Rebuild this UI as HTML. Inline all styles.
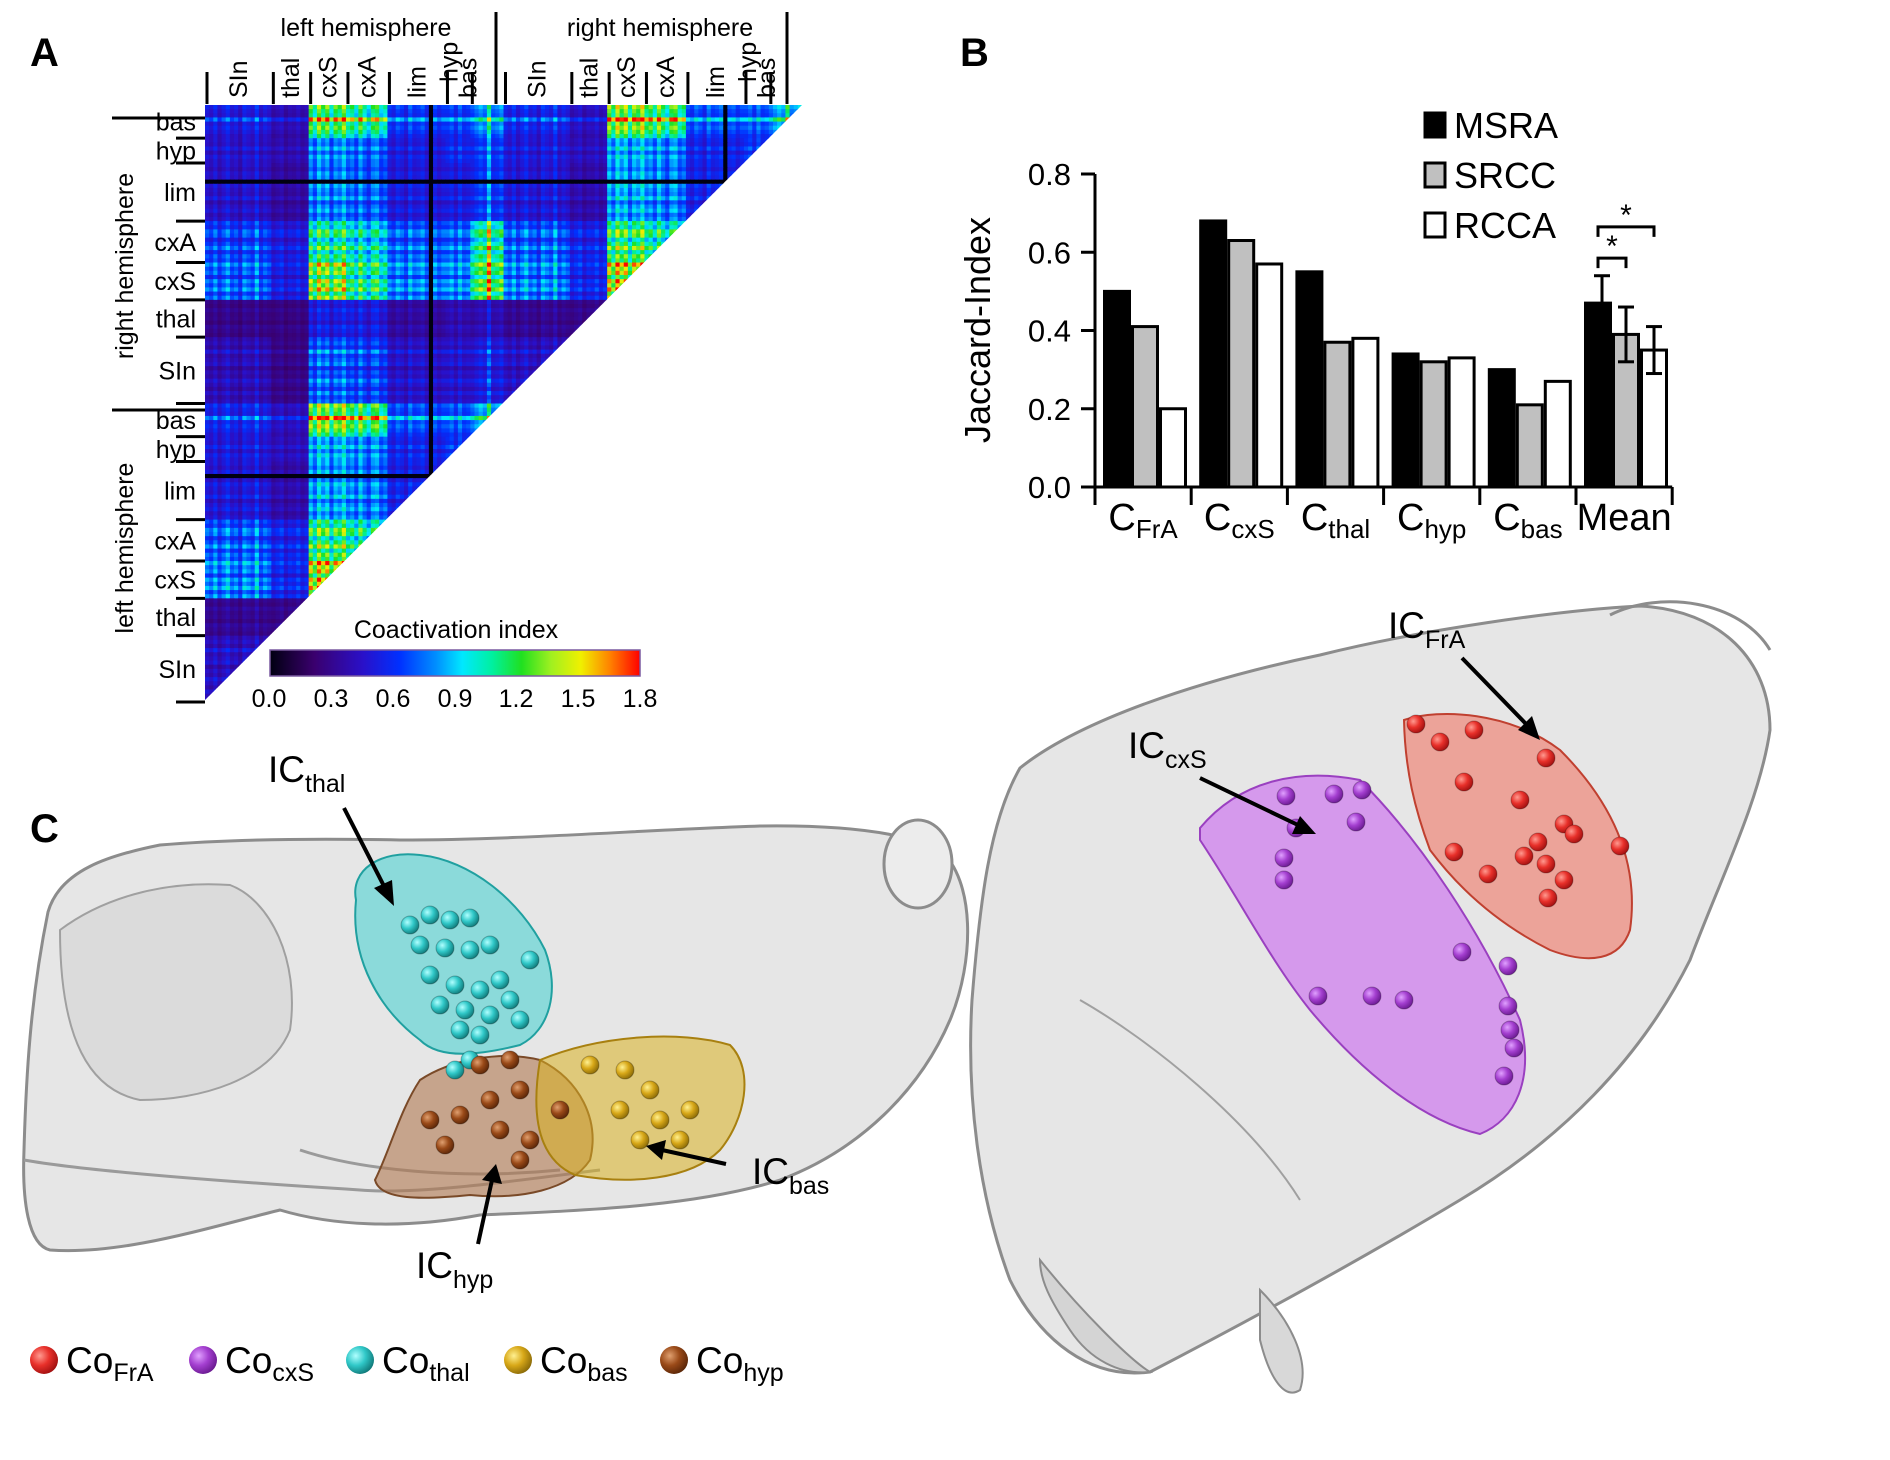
<!DOCTYPE html>
<html><head><meta charset="utf-8"><style>
html,body{margin:0;padding:0;background:#fff}
svg{display:block;font-family:"Liberation Sans",Arial,sans-serif}
</style></head><body>
<svg id="fig" width="1890" height="1460" viewBox="0 0 1890 1460" xmlns="http://www.w3.org/2000/svg">
<defs>
<linearGradient id="cbar" x1="0" x2="1" y1="0" y2="0">
<stop offset="0" stop-color="#000010"/><stop offset="0.12" stop-color="#3a006e"/><stop offset="0.25" stop-color="#2a10c8"/>
<stop offset="0.35" stop-color="#0030ff"/><stop offset="0.45" stop-color="#0090ff"/><stop offset="0.52" stop-color="#00e8ff"/>
<stop offset="0.6" stop-color="#00f0a0"/><stop offset="0.68" stop-color="#20e020"/><stop offset="0.76" stop-color="#a0f020"/>
<stop offset="0.84" stop-color="#f0f000"/><stop offset="0.92" stop-color="#ff8000"/><stop offset="1" stop-color="#ff0000"/>
</linearGradient>
<clipPath id="tri"><polygon points="205,105 802,105 205,700"/></clipPath>
<radialGradient id="gRed" cx="0.35" cy="0.35" r="0.7"><stop offset="0" stop-color="#ff9a90"/><stop offset="0.5" stop-color="#e8302a"/><stop offset="1" stop-color="#a01010"/></radialGradient>
<radialGradient id="gPur" cx="0.35" cy="0.35" r="0.7"><stop offset="0" stop-color="#e0a0ff"/><stop offset="0.5" stop-color="#a43fd0"/><stop offset="1" stop-color="#6a1a90"/></radialGradient>
<radialGradient id="gCya" cx="0.35" cy="0.35" r="0.7"><stop offset="0" stop-color="#b0ffff"/><stop offset="0.5" stop-color="#30c8c8"/><stop offset="1" stop-color="#107878"/></radialGradient>
<radialGradient id="gGol" cx="0.35" cy="0.35" r="0.7"><stop offset="0" stop-color="#fff090"/><stop offset="0.5" stop-color="#d8a818"/><stop offset="1" stop-color="#8a6a08"/></radialGradient>
<radialGradient id="gBro" cx="0.35" cy="0.35" r="0.7"><stop offset="0" stop-color="#e0a070"/><stop offset="0.5" stop-color="#9a4a18"/><stop offset="1" stop-color="#5a2608"/></radialGradient>
</defs>

<text x="30" y="66" font-size="40" font-weight="bold">A</text>
<text x="960" y="66" font-size="40" font-weight="bold">B</text>
<text x="30" y="842" font-size="40" font-weight="bold">C</text>

<g id="heat" clip-path="url(#tri)"></g>
<g id="heatAxes" font-size="25"></g>
<text x="366" y="36" font-size="25" text-anchor="middle">left hemisphere</text>
<text x="660" y="36" font-size="25" text-anchor="middle">right hemisphere</text>
<line x1="496" y1="12" x2="496" y2="104" stroke="#000" stroke-width="3"/>
<line x1="787" y1="12" x2="787" y2="104" stroke="#000" stroke-width="3"/>
<line x1="112" y1="118" x2="205" y2="118" stroke="#000" stroke-width="3"/>
<line x1="112" y1="410" x2="205" y2="410" stroke="#000" stroke-width="3"/>
<text transform="translate(133,266) rotate(-90)" font-size="25" text-anchor="middle">right hemisphere</text>
<text transform="translate(133,548) rotate(-90)" font-size="25" text-anchor="middle">left hemisphere</text>
<g>
<text x="456" y="638" font-size="25" text-anchor="middle">Coactivation  index</text>
<rect x="270" y="650" width="370" height="26" fill="url(#cbar)" stroke="#7a5aa0" stroke-width="1.5"/>
<g font-size="25" text-anchor="middle">
<text x="269" y="707">0.0</text><text x="331" y="707">0.3</text><text x="393" y="707">0.6</text><text x="455" y="707">0.9</text><text x="516" y="707">1.2</text><text x="578" y="707">1.5</text><text x="640" y="707">1.8</text>
</g></g>

<g id="bars"></g>

<g>
<path d="M48,912 C60,870 110,855 160,845 C220,840 300,838 400,840 C520,840 640,830 760,826 C830,825 900,830 940,850 C975,880 975,960 950,1020 C920,1090 860,1150 780,1180 C700,1205 600,1210 480,1215 C400,1230 330,1225 280,1210 C200,1230 120,1255 50,1250 C28,1245 22,1200 24,1150 C26,1080 30,1000 48,912 Z" fill="#e2e2e2" fill-opacity="0.85" stroke="#8c8c8c" stroke-width="3"/>
<path d="M60,930 C100,900 160,880 230,885 C270,900 300,960 290,1030 C270,1080 200,1100 140,1100 C90,1090 60,1040 60,930 Z" fill="#d4d4d4" fill-opacity="0.6" stroke="#a0a0a0" stroke-width="2"/>
<ellipse cx="918" cy="864" rx="34" ry="44" fill="#ececec" stroke="#8c8c8c" stroke-width="3"/>
<path d="M24,1160 C80,1170 200,1180 360,1190 C420,1195 520,1180 600,1170" fill="none" stroke="#9a9a9a" stroke-width="3"/>
<path d="M300,1150 C360,1170 460,1180 560,1170" fill="none" stroke="#9a9a9a" stroke-width="3"/>
</g>
<path d="M356,900 C350,870 380,850 420,855 C470,860 520,900 545,950 C560,990 550,1030 520,1045 C480,1055 440,1060 420,1040 C380,1010 350,960 356,900 Z" fill="#40d0d0" fill-opacity="0.55" stroke="#20a0a0" stroke-width="2"/>
<path d="M420,1080 C450,1060 500,1050 540,1060 C580,1080 600,1120 590,1160 C570,1190 520,1200 470,1195 C420,1200 380,1200 375,1180 C390,1150 400,1110 420,1080 Z" fill="#b07850" fill-opacity="0.6" stroke="#7a4a28" stroke-width="2"/>
<path d="M540,1060 C600,1035 680,1030 730,1045 C755,1070 745,1120 720,1150 C690,1180 630,1185 575,1175 C540,1160 530,1120 540,1060 Z" fill="#d8b020" fill-opacity="0.55" stroke="#a88010" stroke-width="2"/>
<g id="dotsLeft"></g>

<g>
<path d="M1020,768 C1080,720 1200,680 1320,655 C1420,630 1560,610 1640,606 C1720,610 1770,660 1770,730 C1760,800 1720,880 1690,960 C1640,1060 1560,1140 1460,1200 C1360,1260 1250,1320 1150,1372 C1090,1380 1040,1340 1010,1280 C980,1200 966,1100 972,1000 C980,900 990,820 1020,768 Z" fill="#e2e2e2" fill-opacity="0.85" stroke="#8c8c8c" stroke-width="3"/>
<path d="M1040,1260 C1080,1310 1130,1360 1150,1372 C1120,1375 1090,1360 1070,1330 C1050,1300 1040,1280 1040,1260 Z" fill="#d4d4d4" stroke="#8c8c8c" stroke-width="2"/>
<path d="M1260,1290 C1290,1320 1310,1360 1300,1390 C1285,1400 1270,1380 1260,1340 Z" fill="#d8d8d8" stroke="#8c8c8c" stroke-width="2"/>
<path d="M1610,615 C1660,590 1740,600 1770,650" fill="none" stroke="#8c8c8c" stroke-width="3"/>
<path d="M1080,1000 C1150,1040 1250,1120 1300,1200" fill="none" stroke="#a0a0a0" stroke-width="2"/>
</g>
<path d="M1200,828 C1240,780 1300,768 1360,780 C1420,840 1480,930 1520,1020 C1535,1080 1515,1120 1480,1134 C1420,1120 1360,1070 1310,1010 C1270,960 1240,900 1200,840 Z" fill="#cc70f0" fill-opacity="0.65" stroke="#9a40c0" stroke-width="2"/>
<path d="M1404,720 C1440,708 1510,712 1560,750 C1610,800 1640,860 1630,930 C1620,960 1590,965 1550,950 C1500,925 1460,890 1430,850 C1415,810 1405,770 1404,720 Z" fill="#f08070" fill-opacity="0.65" stroke="#c04030" stroke-width="2"/>
<g id="dotsRight"></g>

<g font-size="37">
<text x="268" y="782">IC<tspan font-size="25" dy="10">thal</tspan></text>
<text x="1388" y="638">IC<tspan font-size="25" dy="10">FrA</tspan></text>
<text x="1128" y="758">IC<tspan font-size="25" dy="10">cxS</tspan></text>
<text x="752" y="1184">IC<tspan font-size="25" dy="10">bas</tspan></text>
<text x="416" y="1278">IC<tspan font-size="25" dy="10">hyp</tspan></text>
</g>
<g stroke="#000" stroke-width="4" fill="#000">
<line x1="344" y1="808" x2="386" y2="890"/><polygon points="394,906 374,888 392,880" stroke="none"/>
<line x1="1462" y1="658" x2="1528" y2="726"/><polygon points="1540,740 1518,730 1532,716" stroke="none"/>
<line x1="1200" y1="778" x2="1300" y2="826"/><polygon points="1316,834 1292,834 1300,816" stroke="none"/>
<line x1="726" y1="1164" x2="662" y2="1150"/><polygon points="646,1146 666,1140 662,1160" stroke="none"/>
<line x1="478" y1="1244" x2="492" y2="1180"/><polygon points="496,1164 502,1184 482,1180" stroke="none"/>
</g>

<g font-size="37">
<g><circle cx="44" cy="1360" r="14" fill="url(#gRed)"/><text x="66" y="1373">Co<tspan font-size="25" dy="8">FrA</tspan></text></g>
<g><circle cx="203" cy="1360" r="14" fill="url(#gPur)"/><text x="225" y="1373">Co<tspan font-size="25" dy="8">cxS</tspan></text></g>
<g><circle cx="360" cy="1360" r="14" fill="url(#gCya)"/><text x="382" y="1373">Co<tspan font-size="25" dy="8">thal</tspan></text></g>
<g><circle cx="518" cy="1360" r="14" fill="url(#gGol)"/><text x="540" y="1373">Co<tspan font-size="25" dy="8">bas</tspan></text></g>
<g><circle cx="674" cy="1360" r="14" fill="url(#gBro)"/><text x="696" y="1373">Co<tspan font-size="25" dy="8">hyp</tspan></text></g>
</g>
</svg>
<script>
// ===== Heatmap data =====
const regionNames = ["SIn","thal","cxS","cxA","lim","hyp","bas"];
const regionNodes = [16,9,9,10,14,6,8];
const blockValues = [
 [0.45,0.32,0.75,0.70,0.50,0.50,0.55],
 [0.32,0.30,0.55,0.55,0.38,0.42,0.42],
 [0.75,0.55,1.30,1.10,0.80,0.80,1.20],
 [0.70,0.55,1.10,1.00,0.75,0.75,1.10],
 [0.50,0.38,0.80,0.75,0.55,0.55,0.65],
 [0.50,0.42,0.80,0.75,0.55,0.60,0.65],
 [0.55,0.42,1.20,1.10,0.65,0.65,0.80]];
const nodeGain = [1.0,0.9,1.1,0.85,1.0,1.15,0.9,1.0,0.8,1.1,1.0,0.9,1.2,0.85,1.0,0.9,
 0.9,1.0,1.1,0.85,1.0,0.95,1.1,0.9,1.0,
 1.1,0.9,1.2,1.0,1.15,0.85,1.1,1.0,1.2,
 1.0,1.1,0.9,1.2,1.0,0.85,1.1,1.15,0.9,1.0,
 1.0,0.9,1.1,1.0,0.85,1.15,0.95,1.0,1.1,0.9,1.0,1.05,0.9,1.0,
 1.0,1.1,0.9,1.15,0.95,1.0,
 0.9,1.0,1.1,1.0,1.45,0.95,1.0,1.1];
const deadNodes = [54,125];

// ===== Bar chart data =====
const groups = ["FrA","cxS","thal","hyp","bas","Mean"];
const msra = [0.50,0.68,0.55,0.34,0.30,0.47];
const srcc = [0.41,0.63,0.37,0.32,0.21,0.39];
const rcca = [0.20,0.57,0.38,0.33,0.27,0.35];
const meanErr = [0.07,0.07,0.06];
const yTicks = [0.0,0.2,0.4,0.6,0.8];
const seriesNames = ["MSRA","SRCC","RCCA"];

const NS="http://www.w3.org/2000/svg";
function mk(tag, attrs, parent){const e=document.createElementNS(NS,tag);for(const k in attrs)e.setAttribute(k,attrs[k]);if(parent)parent.appendChild(e);return e;}

const cstops=[[0,[0,0,16]],[0.12,[58,0,110]],[0.25,[42,16,200]],[0.35,[0,48,255]],[0.45,[0,144,255]],[0.52,[0,232,255]],[0.6,[0,240,160]],[0.68,[32,224,32]],[0.76,[160,240,32]],[0.84,[240,240,0]],[0.92,[255,128,0]],[1,[255,0,0]]];
function cmap(v){let t=Math.max(0,Math.min(1,v/1.8));for(let i=1;i<cstops.length;i++){if(t<=cstops[i][0]){const a=cstops[i-1],b=cstops[i];const f=(t-a[0])/(b[0]-a[0]);const c=a[1].map((x,k)=>Math.round(x+(b[1][k]-x)*f));return `rgb(${c[0]},${c[1]},${c[2]})`;}}return "rgb(255,0,0)";}

(function(){
 const g=document.getElementById('heat');
 const per=regionNodes.reduce((a,b)=>a+b,0);
 const N=per*2;
 const x0=205,y0=105,S=597,cs=S/N;
 const type=[];for(let h=0;h<2;h++)regionNodes.forEach((n,r)=>{for(let k=0;k<n;k++)type.push(r);});
 const gain=nodeGain.concat(nodeGain);
 function val(a,b){if(deadNodes.includes(a)||deadNodes.includes(b))return 0;const same=(a<per)===(b<per)?1:0.92;return Math.min(1.8,blockValues[type[a]][type[b]]*gain[a]*gain[b]*same);}
 for(let r=0;r<N;r++){
  const nr=N-1-r;
  for(let j=0;j<=nr;j++){
   mk('rect',{x:(x0+j*cs).toFixed(2),y:(y0+r*cs).toFixed(2),width:(cs+0.6).toFixed(2),height:(cs+0.6).toFixed(2),fill:cmap(val(nr,j))},g);
  }
 }
 const ax=document.getElementById('heatAxes');
 const bounds=[0];for(let h=0;h<2;h++)regionNodes.forEach(n=>bounds.push(bounds[bounds.length-1]+n));
 const names=regionNames.concat(regionNames);
 for(let i=0;i<bounds.length-1;i++){
  const xa=x0+bounds[i]*cs, xb=x0+bounds[i+1]*cs;
  const l=mk('line',{x1:xa+2,y1:72,x2:xa+2,y2:104,stroke:'#000','stroke-width':3},ax);
  
  
  let cx=(xa+xb)/2+9;
  if(names[i]==='hyp')cx=xa+12;
  if(names[i]==='bas')cx=xa+6;
  const t=mk('text',{transform:`translate(${cx},${names[i]==='hyp'?82:98}) rotate(-90)`,'text-anchor':'start'},ax);
  t.textContent=names[i];
  
  
  const ya=y0+(N-bounds[i+1])*cs, yb=y0+(N-bounds[i])*cs;
  const rl=mk('line',{x1:176,y1:yb,x2:205,y2:yb,stroke:'#000','stroke-width':3},ax);
  
  
  const rt=mk('text',{x:196,y:(ya+yb)/2+9,'text-anchor':'end'},ax);
  rt.textContent=names[i];
  
  
 }
})();

(function(){
 const g=document.getElementById('bars');
 const X0=1095,Y0=487,YTOP=174,VMAX=0.8,GW=96.2,BW=28,OFF=8;
 const y=v=>Y0-(v/VMAX)*(Y0-YTOP);
 const gx=i=>X0+i*GW;
 mk('line',{x1:X0,y1:YTOP,x2:X0,y2:Y0+18,stroke:'#000','stroke-width':3},g);
 mk('line',{x1:X0-14,y1:Y0,x2:gx(6),y2:Y0,stroke:'#000','stroke-width':3},g);
 yTicks.forEach(t=>{
  mk('line',{x1:X0-14,y1:y(t),x2:X0,y2:y(t),stroke:'#000','stroke-width':3},g);
  const tx=mk('text',{x:X0-24,y:y(t)+11,'font-size':31,'text-anchor':'end'},g);tx.textContent=t.toFixed(1);
  
  
 });
 for(let i=1;i<=6;i++)mk('line',{x1:gx(i),y1:Y0,x2:gx(i),y2:Y0+18,stroke:'#000','stroke-width':3},g);
 const yl=mk('text',{transform:`translate(990,330) rotate(-90)`,'font-size':36,'text-anchor':'middle'},g);yl.textContent='Jaccard-Index';
 
 
 const fills=['#000','#c0c0c0','#fff'];
 const data=[msra,srcc,rcca];
 groups.forEach((gname,i)=>{
  data.forEach((ser,s)=>{
   const bx=gx(i)+OFF+s*BW;
   const r=mk('rect',{x:bx+1.5,y:y(ser[i]),width:BW-3,height:Y0-y(ser[i]),fill:fills[s],stroke:'#000','stroke-width':3},g);
   
   
  });
  const lx=gx(i)+GW/2;
  const lab=mk('text',{x:lx,y:530,'font-size':38,'text-anchor':'middle'},g);
  if(gname==='Mean'){lab.textContent='Mean';}
  else{lab.textContent='C';const ts=mk('tspan',{'font-size':26,dy:8},lab);ts.textContent=gname;}
  
  
 });
 const mi=5;
 data.forEach((ser,s)=>{
  const cx=gx(mi)+OFF+s*BW+BW/2+(s===0?4:0);
  const e=meanErr[s];
  mk('line',{x1:cx,y1:y(ser[mi]+e),x2:cx,y2:y(ser[mi]-e),stroke:'#000','stroke-width':3},g);
  mk('line',{x1:cx-8,y1:y(ser[mi]+e),x2:cx+8,y2:y(ser[mi]+e),stroke:'#000','stroke-width':3},g);
  if(s>0)mk('line',{x1:cx-8,y1:y(ser[mi]-e),x2:cx+8,y2:y(ser[mi]-e),stroke:'#000','stroke-width':3},g);
 });
 const b1x1=gx(mi)+OFF+BW/2, b1x2=gx(mi)+OFF+BW*1.5, b1y=y(0.585);
 mk('path',{d:`M${b1x1},${b1y+10} V${b1y} H${b1x2} V${b1y+10}`,fill:'none',stroke:'#000','stroke-width':3},g);
 let st=mk('text',{x:(b1x1+b1x2)/2,y:b1y-2,'font-size':30,'text-anchor':'middle'},g);st.textContent='*';
 const b2x1=gx(mi)+OFF+BW/2, b2x2=gx(mi)+OFF+BW*2.5, b2y=y(0.665);
 mk('path',{d:`M${b2x1},${b2y+10} V${b2y} H${b2x2} V${b2y+10}`,fill:'none',stroke:'#000','stroke-width':3},g);
 st=mk('text',{x:(b2x1+b2x2)/2,y:b2y-2,'font-size':30,'text-anchor':'middle'},g);st.textContent='*';
 seriesNames.forEach((n,s)=>{
  const ly=125+s*50;
  const sq=mk('rect',{x:1425,y:ly-12,width:20,height:24,fill:fills[s],stroke:'#000','stroke-width':3},g);
  
  
  const t=mk('text',{x:1454,y:ly+13,'font-size':36},g);t.textContent=n;
  
  
 });
})();

(function(){
 const left=document.getElementById('dotsLeft'), right=document.getElementById('dotsRight');
 const cyan=[[410,925],[430,915],[450,920],[470,918],[420,945],[445,948],[470,950],[490,945],[430,975],[455,985],[480,990],[500,980],[440,1005],[465,1010],[490,1015],[510,1000],[460,1030],[480,1035],[530,960],[520,1020],[470,1060],[455,1070]];
 const brown=[[480,1065],[510,1060],[520,1090],[490,1100],[460,1115],[430,1120],[445,1145],[500,1130],[530,1140],[560,1110],[520,1160]];
 const gold=[[590,1065],[625,1070],[650,1090],[620,1110],[660,1120],[690,1110],[640,1140],[680,1140]];
 const purple=[[1286,796],[1334,794],[1362,790],[1296,828],[1356,822],[1284,858],[1284,880],[1462,952],[1508,966],[1318,996],[1372,996],[1404,1000],[1508,1006],[1510,1030],[1514,1048],[1504,1076]];
 const red=[[1416,724],[1440,742],[1474,730],[1546,758],[1464,782],[1520,800],[1564,824],[1538,842],[1574,834],[1454,852],[1524,856],[1546,864],[1620,846],[1564,880],[1488,874],[1548,898]];
 const put=(arr,fill,par)=>arr.forEach(p=>mk('circle',{cx:p[0],cy:p[1],r:9,fill:fill,stroke:'rgba(0,0,0,0.25)','stroke-width':1},par));
 put(cyan,'url(#gCya)',left);put(brown,'url(#gBro)',left);put(gold,'url(#gGol)',left);
 put(purple,'url(#gPur)',right);put(red,'url(#gRed)',right);
})();
</script>
</body></html>
